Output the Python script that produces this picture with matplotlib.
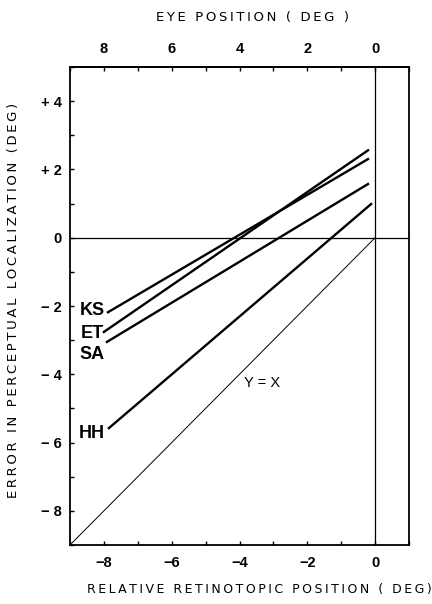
import matplotlib
matplotlib.use("Agg")
import matplotlib.pyplot as plt
from matplotlib.ticker import MultipleLocator

plt.rcParams["font.family"] = ["Liberation Sans", "DejaVu Sans"]

# regression lines per subject: (x_start, y_start) -> (x_end, y_end)
subjects = ["KS", "ET", "SA", "HH"]
x_start = [-7.91, -8.03, -7.94, -7.88]
y_start = [-2.20, -2.78, -3.07, -5.60]
x_end = [-0.18, -0.18, -0.18, -0.09]
y_end = [2.32, 2.58, 1.59, 1.01]
label_y = [-2.13, -2.80, -3.43, -5.74]

bottom_ticks = [-8, -6, -4, -2, 0]
bottom_labels = ["\u22128", "\u22126", "\u22124", "\u22122", "0"]
left_ticks = [4, 2, 0, -2, -4, -6, -8]
left_labels = ["+ 4", "+ 2", "0", "\u2212 2", "\u2212 4", "\u2212 6", "\u2212 8"]
top_ticks = [8, 6, 4, 2, 0]


def spaced(s):
    # old typewriter-style letter spacing
    return "\u2009".join(s)


fig = plt.figure(figsize=(4.32, 6.04), dpi=100)
ax = fig.add_axes([70 / 432, 59 / 604, 339 / 432, 478 / 604])
ax.set_xlim(-9, 1)
ax.set_ylim(-9, 5)

# reference lines
ax.axhline(0, color="black", lw=0.9)
ax.axvline(0, color="black", lw=0.9)
ax.plot([-9, 0], [-9, 0], color="black", lw=0.7)
ax.text(-3.32, -4.26, "Y = X", fontsize=10.5, ha="center", va="center")

for name, x0, y0, x1, y1, ly in zip(subjects, x_start, y_start, x_end, y_end, label_y):
    ax.plot([x0, x1], [y0, y1], color="black", lw=1.7, solid_capstyle="butt")
    ax.text(-8.35, ly, name, fontsize=13, fontweight="bold", ha="center", va="center")

for sp in ax.spines.values():
    sp.set_linewidth(1.3)

ax.set_xticks(bottom_ticks)
ax.set_xticklabels(bottom_labels, fontweight="bold", fontsize=10.5)
ax.xaxis.set_minor_locator(MultipleLocator(1))
ax.set_yticks(left_ticks)
ax.set_yticklabels(left_labels, fontweight="bold", fontsize=10.5)
ax.yaxis.set_minor_locator(MultipleLocator(1))
ax.tick_params(which="both", direction="in", length=3, width=1, top=False, right=False)
ax.tick_params(axis="x", pad=8)
ax.tick_params(axis="y", pad=6)

sec = ax.secondary_xaxis("top", functions=(lambda v: -v, lambda v: -v))
sec.set_xticks(top_ticks)
sec.set_xticklabels([str(t) for t in top_ticks], fontweight="bold", fontsize=10.5)
sec.xaxis.set_minor_locator(MultipleLocator(1))
sec.tick_params(which="both", direction="in", length=3, width=1, pad=8)
sec.spines["top"].set_linewidth(1.3)

lab = dict(family="DejaVu Sans", ha="center", va="center")
fig.text(253 / 432, 1 - 17 / 604, spaced("EYE POSITION ( DEG )"), fontsize=9.5, **lab)
fig.text(259 / 432, 1 - 590 / 604, spaced("RELATIVE RETINOTOPIC POSITION ( DEG)"),
         fontsize=9, **lab)
fig.text(14 / 432, 1 - 300 / 604, spaced("ERROR IN PERCEPTUAL LOCALIZATION (DEG)"),
         rotation=90, fontsize=9.5, **lab)

fig.savefig("out.png", dpi=100)
